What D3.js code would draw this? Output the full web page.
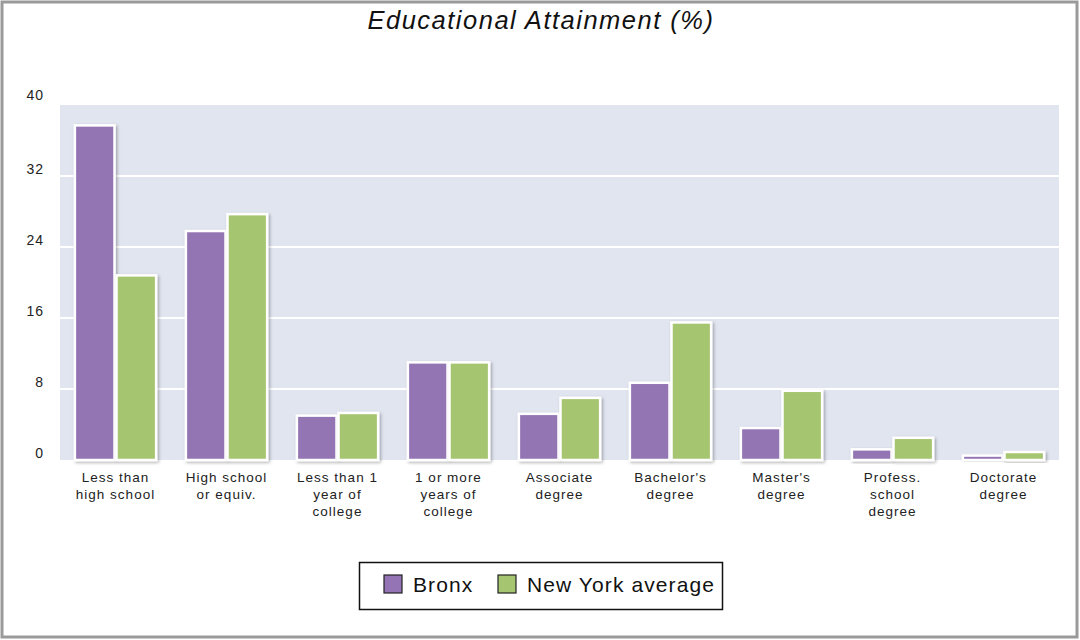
<!DOCTYPE html>
<html><head><meta charset="utf-8">
<script src="https://cdn.jsdelivr.net/npm/d3@7"></script>
<style>
body{margin:0;background:#fff;}
svg{display:block;}
text{font-family:"Liberation Sans",Arial,sans-serif;}
</style></head>
<body>
<svg id="chart" width="1080" height="640"></svg>
<script>
const categories = [
  ["Less than","high school"],
  ["High school","or equiv."],
  ["Less than 1","year of","college"],
  ["1 or more","years of","college"],
  ["Associate","degree"],
  ["Bachelor's","degree"],
  ["Master's","degree"],
  ["Profess.","school","degree"],
  ["Doctorate","degree"]
];
const seriesNames = ["Bronx","New York average"];
const bronx = [37.7, 25.8, 5.0, 11.0, 5.2, 8.7, 3.6, 1.2, 0.5];
const nyAverage = [20.8, 27.7, 5.3, 11.0, 7.0, 15.5, 7.8, 2.5, 0.9];
const yTicks = [0, 8, 16, 24, 32, 40];
const colors = ["#9474b4", "#a6c570"];
const chartTitle = "Educational Attainment (%)";

const svg = d3.select("#chart");
const defs = svg.append("defs");
const f = defs.append("filter").attr("id","shadow").attr("x","-20%").attr("y","-20%").attr("width","150%").attr("height","150%");
f.append("feDropShadow").attr("dx",1.5).attr("dy",1.5).attr("stdDeviation",1.5).attr("flood-color","#000").attr("flood-opacity",0.3);

// outer frame
svg.append("rect").attr("x",2).attr("y",2).attr("width",1075).attr("height",635)
  .attr("fill","#fff").attr("stroke","#9a9a9a").attr("stroke-width",3);

svg.append("text").attr("x",541).attr("y",29).attr("text-anchor","middle")
  .attr("font-size",25.5).attr("letter-spacing",1.5).attr("font-style","italic").attr("fill","#111").text(chartTitle);

const pLeft = 60, pRight = 1059, pTop = 105, pBottom = 460;
const x = d3.scaleBand().domain(d3.range(categories.length)).range([pLeft,pRight]).paddingInner(0.25).paddingOuter(0.125);
const x1 = d3.scaleBand().domain([0,1]).range([0,x.bandwidth()]);
const y = d3.scaleLinear().domain([0,40]).range([pBottom,pTop]);

svg.append("rect").attr("x",pLeft).attr("y",pTop).attr("width",pRight-pLeft).attr("height",pBottom-pTop).attr("fill","#e1e5f0");

svg.append("g").selectAll("line").data(yTicks.filter(d=>d>0 && d<40)).join("line")
  .attr("x1",pLeft).attr("x2",pRight).attr("y1",d=>y(d)).attr("y2",d=>y(d))
  .attr("stroke","#fff").attr("stroke-width",2);

const yAxis = d3.axisLeft(y).tickValues(yTicks).tickSize(0).tickPadding(0);
const ya = svg.append("g").attr("transform",`translate(44,-7)`).call(yAxis);
ya.select(".domain").remove();
ya.selectAll("text").attr("font-size",14).attr("letter-spacing",1).attr("fill","#222").attr("font-family","'Liberation Sans',Arial,sans-serif");
ya.selectAll(".tick").filter(d=>d===40).attr("transform",`translate(0,${y(40)-2})`);

const data = categories.map((c,i)=>({i, vals:[bronx[i], nyAverage[i]]}));
const groups = svg.append("g").selectAll("g").data(data).join("g")
  .attr("transform",d=>`translate(${x(d.i)},0)`);
groups.selectAll("rect").data(d=>d.vals.map((v,k)=>({v,k}))).join("rect")
  .attr("x",d=>x1(d.k)+1).attr("y",d=>y(d.v)).attr("width",x1.bandwidth()-2).attr("height",d=>pBottom-y(d.v))
  .attr("fill",d=>colors[d.k]).attr("stroke","#fff").attr("stroke-width",2.5).attr("filter","url(#shadow)");

const xa = d3.axisBottom(x).tickSize(0).tickFormat("");
const xg = svg.append("g").attr("transform",`translate(0,${pBottom})`).call(xa);
xg.select(".domain").remove();
xg.selectAll(".tick").each(function(d){
  const t = d3.select(this).append("text").attr("text-anchor","middle").attr("font-size",13.5).attr("letter-spacing",1).attr("fill","#222");
  categories[d].forEach((line,j)=>t.append("tspan").attr("x",0).attr("y",22+j*17).text(line));
});

// legend
const lg = svg.append("g");
lg.append("rect").attr("x",359.5).attr("y",562.5).attr("width",363).attr("height",47).attr("fill","#fff").attr("stroke","#111").attr("stroke-width",1.5);
const lx = [384, 498];
seriesNames.forEach((n,k)=>{
  lg.append("rect").attr("x",lx[k]).attr("y",575).attr("width",18).attr("height",18).attr("fill",colors[k]).attr("stroke","#222").attr("stroke-width",1.2);
  lg.append("text").attr("x",lx[k]+29).attr("y",592).attr("font-size",21).attr("letter-spacing",1.1).attr("fill","#111").text(n);
});
</script>
</body></html>
